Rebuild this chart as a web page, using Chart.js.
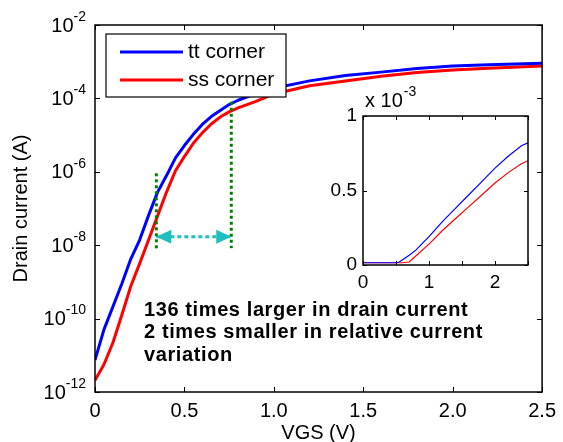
<!DOCTYPE html>
<html>
<head>
<meta charset="utf-8">
<script src="https://cdn.jsdelivr.net/npm/chart.js@4"></script>
<style>
  body { margin: 0; background: #fff; }
  #wrap { position: relative; width: 563px; height: 442px; }
  #main { position: absolute; left: 0; top: 0; }
  #inset { position: absolute; left: 310px; top: 85px; }
</style>
</head>
<body>
<div id="wrap">
  <canvas id="main" width="563" height="442"></canvas>
  <canvas id="inset" width="240" height="215"></canvas>
</div>
<script>
// main plot (log scale)
const vgs = [0, 0.05, 0.1, 0.15, 0.2, 0.25, 0.3, 0.35, 0.4, 0.45, 0.5, 0.55, 0.6, 0.65, 0.7, 0.75, 0.8, 0.9, 1.0, 1.2, 1.4, 1.6, 1.8, 2.0, 2.2, 2.5];
const ttCurrent = [7.4e-12, 5.0e-11, 2.1e-10, 8.9e-10, 4.2e-9, 1.4e-8, 6.6e-8, 2.8e-7, 7.9e-7, 2.4e-6, 5.2e-6, 1.05e-5, 1.95e-5, 3.2e-5, 4.7e-5, 6.8e-5, 8.9e-5, 1.35e-4, 1.9e-4, 3.0e-4, 4.2e-4, 5.2e-4, 6.5e-4, 7.6e-4, 8.3e-4, 9.1e-4];
const ssCurrent = [2.1e-12, 5.6e-12, 2.2e-11, 1.26e-10, 7.6e-10, 3.2e-9, 1.4e-8, 6.3e-8, 2.8e-7, 1.07e-6, 2.6e-6, 6.0e-6, 1.15e-5, 2.0e-5, 3.1e-5, 4.3e-5, 5.5e-5, 8.3e-5, 1.32e-4, 2.2e-4, 3.0e-4, 4.0e-4, 5.1e-4, 5.9e-4, 6.6e-4, 7.6e-4];
const yTickValues = [1e-12, 1e-10, 1e-8, 1e-6, 1e-4, 1e-2];
const seriesNames = ['tt corner', 'ss corner'];

// markers
const leftMarkX = [0.343, 0.343];
const leftMarkY = [9.1e-7, 7.1e-9];
const rightMarkX = [0.762, 0.762];
const rightMarkY = [8.1e-5, 8.3e-9];
const arrowX = [0.343, 0.762];
const arrowY = [1.7e-8, 1.7e-8];
const noteLines = ['136 times larger in drain current', '2 times smaller in relative current', 'variation'];

// inset (linear scale)
const insetVgs = [0, 0.5, 0.55, 0.6, 0.7, 0.8, 1.0, 1.2, 1.4, 1.6, 1.8, 2.0, 2.2, 2.4, 2.5];
const insetTt = [1.5e-5, 1.5e-5, 2.0e-5, 3.5e-5, 6.5e-5, 1.0e-4, 1.9e-4, 2.9e-4, 3.8e-4, 4.7e-4, 5.6e-4, 6.5e-4, 7.3e-4, 8.0e-4, 8.2e-4];
const insetSs = [1.5e-5, 1.5e-5, 1.5e-5, 1.5e-5, 2.0e-5, 6.0e-5, 1.4e-4, 2.3e-4, 3.1e-4, 3.9e-4, 4.7e-4, 5.5e-4, 6.2e-4, 6.8e-4, 7.0e-4];
const insetYTicks = [0, 5e-4, 1e-3];

const FONT = "'Liberation Sans', Arial, Helvetica, sans-serif";
const BLUE = '#0000ff';
const RED = '#ff0000';
const GREEN = '#008000';
const CYAN = '#1fbfbf';

const pts = (xs, ys) => xs.map((x, i) => ({ x: x, y: ys[i] }));

const mainDecor = {
  id: 'mainDecor',
  afterDatasetsDraw(chart) {
    const { ctx, chartArea: a, scales: { x, y } } = chart;
    ctx.save();

    // arrow heads
    const ay = y.getPixelForValue(arrowY[0]);
    const ax0 = x.getPixelForValue(arrowX[0]);
    const ax1 = x.getPixelForValue(arrowX[1]);
    ctx.fillStyle = CYAN;
    ctx.beginPath();
    ctx.moveTo(ax0, ay); ctx.lineTo(ax0 + 15, ay - 7); ctx.lineTo(ax0 + 15, ay + 7); ctx.closePath();
    ctx.fill();
    ctx.beginPath();
    ctx.moveTo(ax1, ay); ctx.lineTo(ax1 - 15, ay - 7); ctx.lineTo(ax1 - 15, ay + 7); ctx.closePath();
    ctx.fill();

    // axes box + inward ticks
    ctx.strokeStyle = '#000';
    ctx.lineWidth = 1.5;
    ctx.strokeRect(a.left, a.top, a.right - a.left, a.bottom - a.top);
    ctx.lineWidth = 1;
    ctx.beginPath();
    x.ticks.forEach(t => {
      const px = Math.round(x.getPixelForValue(t.value)) + 0.5;
      ctx.moveTo(px, a.bottom); ctx.lineTo(px, a.bottom - 5);
      ctx.moveTo(px, a.top); ctx.lineTo(px, a.top + 5);
    });
    yTickValues.forEach(v => {
      const py = Math.round(y.getPixelForValue(v)) + 0.5;
      ctx.moveTo(a.left, py); ctx.lineTo(a.left + 5, py);
      ctx.moveTo(a.right, py); ctx.lineTo(a.right - 5, py);
    });
    ctx.stroke();

    // y tick labels 10^n
    ctx.fillStyle = '#000';
    ctx.textBaseline = 'middle';
    ctx.textAlign = 'right';
    yTickValues.forEach(v => {
      const py = y.getPixelForValue(v);
      const ex = String(Math.round(Math.log10(v)));
      ctx.font = '14px ' + FONT;
      const ew = ctx.measureText(ex).width;
      ctx.fillText(ex, a.left - 9, py - 8);
      ctx.font = '20px ' + FONT;
      ctx.fillText('10', a.left - 9 - ew, py + 1);
    });

    // legend
    const lx = a.left + 11, ly = a.top + 9;
    ctx.fillStyle = '#fff';
    ctx.fillRect(lx, ly, 180, 63);
    ctx.strokeStyle = '#000';
    ctx.lineWidth = 1.2;
    ctx.strokeRect(lx, ly, 180, 63);
    [BLUE, RED].forEach((c, i) => {
      const yy = ly + 18 + i * 28;
      ctx.strokeStyle = c;
      ctx.lineWidth = 3;
      ctx.beginPath();
      ctx.moveTo(lx + 14, yy); ctx.lineTo(lx + 77, yy);
      ctx.stroke();
      ctx.fillStyle = '#000';
      ctx.textAlign = 'left';
      ctx.font = '21px ' + FONT;
      ctx.fillText(seriesNames[i], lx + 82, yy);
    });

    // note
    ctx.font = 'bold 20px ' + FONT;
    ctx.textAlign = 'left';
    ctx.letterSpacing = '0.6px';
    noteLines.forEach((s, i) => ctx.fillText(s, a.left + 49, 310 + i * 22.5));
    ctx.restore();
  }
};

new Chart(document.getElementById('main'), {
  type: 'line',
  data: {
    datasets: [
      { data: pts(leftMarkX, leftMarkY), borderColor: GREEN, borderWidth: 3, borderDash: [3, 3] },
      { data: pts(rightMarkX, rightMarkY), borderColor: GREEN, borderWidth: 3, borderDash: [3, 3] },
      { data: pts(arrowX, arrowY), borderColor: CYAN, borderWidth: 3, borderDash: [4, 3] },
      { label: seriesNames[0], data: pts(vgs, ttCurrent), borderColor: BLUE, borderWidth: 3 },
      { label: seriesNames[1], data: pts(vgs, ssCurrent), borderColor: RED, borderWidth: 3 }
    ]
  },
  options: {
    responsive: false,
    animation: false,
    devicePixelRatio: 1,
    layout: { padding: { left: 0, right: 15, top: 25, bottom: 0 } },
    elements: { point: { radius: 0 }, line: { tension: 0, borderJoinStyle: 'round' } },
    plugins: { legend: { display: false }, tooltip: { enabled: false } },
    scales: {
      x: {
        type: 'linear', min: 0, max: 2.5,
        grid: { display: false, drawTicks: false },
        border: { display: false },
        ticks: { stepSize: 0.5, color: '#000', font: { family: FONT, size: 20 }, padding: 7, maxRotation: 0 },
        title: { display: true, text: 'VGS (V)', color: '#000', font: { family: FONT, size: 20, lineHeight: 0.9 }, padding: 0 },
        afterFit: s => { s.height = 50; }
      },
      y: {
        type: 'logarithmic', min: 1e-12, max: 1e-2,
        grid: { display: false, drawTicks: false },
        border: { display: false },
        ticks: { display: false },
        title: { display: true, text: 'Drain current (A)', color: '#000', font: { family: FONT, size: 20 }, padding: { top: 9, bottom: 0 } },
        afterFit: s => { s.width = 95; }
      }
    }
  },
  plugins: [mainDecor]
});

const insetDecor = {
  id: 'insetDecor',
  beforeDatasetsDraw(chart) {
    const { ctx, chartArea: a } = chart;
    ctx.save();
    ctx.fillStyle = '#fff';
    ctx.fillRect(a.left, a.top, a.right - a.left, a.bottom - a.top);
    ctx.restore();
  },
  afterDraw(chart) {
    const { ctx, chartArea: a, scales: { x, y } } = chart;
    ctx.save();
    ctx.strokeStyle = '#000';
    ctx.lineWidth = 1.5;
    ctx.strokeRect(a.left, a.top, a.right - a.left, a.bottom - a.top);
    ctx.lineWidth = 1;
    ctx.beginPath();
    x.ticks.forEach(t => {
      const px = Math.round(x.getPixelForValue(t.value)) + 0.5;
      ctx.moveTo(px, a.bottom); ctx.lineTo(px, a.bottom - 4);
      ctx.moveTo(px, a.top); ctx.lineTo(px, a.top + 4);
    });
    insetYTicks.forEach(v => {
      const py = Math.round(y.getPixelForValue(v)) + 0.5;
      ctx.moveTo(a.left, py); ctx.lineTo(a.left + 4, py);
      ctx.moveTo(a.right, py); ctx.lineTo(a.right - 4, py);
    });
    ctx.stroke();
    ctx.fillStyle = '#000';
    ctx.textBaseline = 'middle';
    ctx.textAlign = 'left';
    ctx.font = '20px ' + FONT;
    ctx.fillText('x 10', a.left + 2, a.top - 15);
    const w = ctx.measureText('x 10').width;
    ctx.font = '14px ' + FONT;
    ctx.fillText('-3', a.left + 3 + w, a.top - 24);
    ctx.restore();
  }
};

new Chart(document.getElementById('inset'), {
  type: 'line',
  data: {
    datasets: [
      { data: pts(insetVgs, insetTt), borderColor: BLUE, borderWidth: 1.2 },
      { data: pts(insetVgs, insetSs), borderColor: RED, borderWidth: 1.2 }
    ]
  },
  options: {
    responsive: false,
    animation: false,
    devicePixelRatio: 1,
    layout: { padding: { left: 0, right: 22, top: 31, bottom: 0 } },
    elements: { point: { radius: 0 }, line: { tension: 0 } },
    plugins: { legend: { display: false }, tooltip: { enabled: false } },
    scales: {
      x: {
        type: 'linear', min: 0, max: 2.5,
        grid: { display: false, drawTicks: false },
        border: { display: false },
        ticks: {
          stepSize: 0.5, autoSkip: false, maxRotation: 0, padding: 6,
          color: '#000', font: { family: FONT, size: 19 },
          callback: v => Number.isInteger(v) ? String(v) : ''
        },
        afterFit: s => { s.height = 35; }
      },
      y: {
        type: 'linear', min: 0, max: 1e-3,
        grid: { display: false, drawTicks: false },
        border: { display: false },
        afterBuildTicks: s => { s.ticks = insetYTicks.map(v => ({ value: v })); },
        ticks: {
          padding: 6, color: '#000', font: { family: FONT, size: 19 },
          callback: v => String(+(v * 1000).toFixed(1))
        },
        afterFit: s => { s.width = 53; }
      }
    }
  },
  plugins: [insetDecor]
});
</script>
</body>
</html>
